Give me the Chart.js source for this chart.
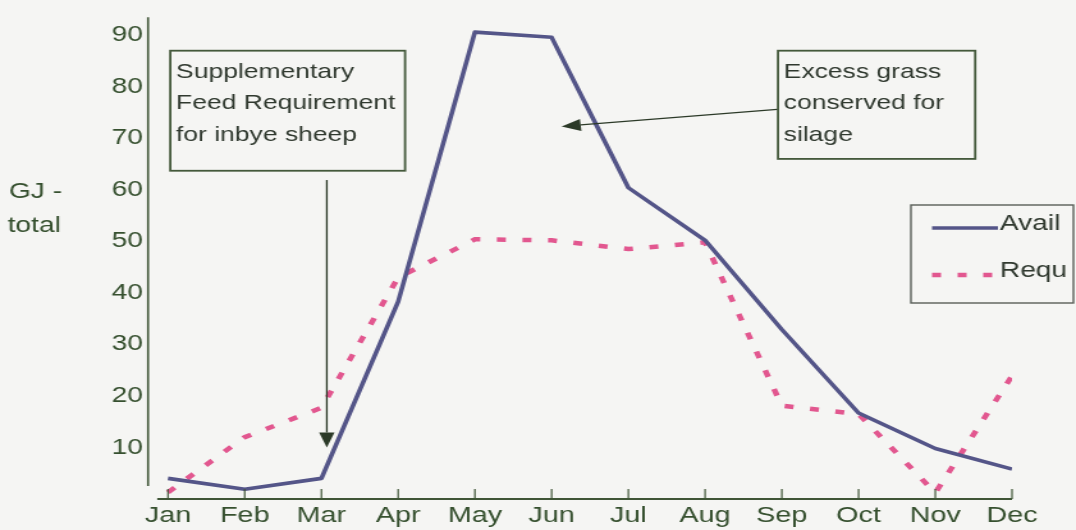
<!DOCTYPE html>
<html>
<head>
<meta charset="utf-8">
<title>Grass available vs requirement</title>
<script src="https://cdn.jsdelivr.net/npm/chart.js@4.4.1/dist/chart.umd.min.js"></script>
<style>
  html, body { margin: 0; padding: 0; background: #f5f5f3; overflow: hidden; }
  #wrap { width: 1076px; height: 530px; overflow: hidden; }
  /* the source scan is stretched sideways, so stretch the canvas the same way */
  #feedChart { transform-origin: 0 0; transform: scaleX(1.2794); }
</style>
</head>
<body>
<div id="wrap"><canvas id="feedChart" width="841" height="530"></canvas></div>
<script>
// GJ per month
const months = ['Jan', 'Feb', 'Mar', 'Apr', 'May', 'Jun', 'Jul', 'Aug', 'Sep', 'Oct', 'Nov', 'Dec'];
const avail = [4, 1.9, 4, 38.3, 90.6, 89.6, 60.4, 50.2, 32.9, 16.7, 9.8, 5.8];
const requ = [1.3, 12, 17.7, 43, 50.4, 50.2, 48.5, 49.8, 18.1, 16.5, 1.2, 23.9];
const yTicks = [10, 20, 30, 40, 50, 60, 70, 80, 90];

const FONT = 'Liberation Sans, Arial, sans-serif';
const BG = '#f5f5f3';
const tickColor = '#36502f';
const textColor = '#30392f';
const lineColor = '#3f5536';

// callout boxes, in axis units (x = month index, y = GJ)
const notes = [
  { lines: ['Supplementary', 'Feed Requirement', 'for inbye sheep'], x0: 0.03, x1: 3.09, top: 87, bottom: 63.7,
    arrow: { from: [2.07, 61.9], to: [2.07, 10.0] } },
  { lines: ['Excess grass', 'conserved for', 'silage'], x0: 7.95, x1: 10.52, top: 87, bottom: 66,
    arrow: { from: [7.94, 75.6], to: [5.13, 72.3] } }
];

function arrow(c, x1, y1, x2, y2) {
  const a = Math.atan2(y2 - y1, x2 - x1);
  const len = 15, half = 6;
  c.beginPath();
  c.moveTo(x1, y1);
  c.lineTo(x2 - Math.cos(a) * len, y2 - Math.sin(a) * len);
  c.stroke();
  c.beginPath();
  c.moveTo(x2, y2);
  c.lineTo(x2 - Math.cos(a) * len - Math.sin(a) * half, y2 - Math.sin(a) * len + Math.cos(a) * half);
  c.lineTo(x2 - Math.cos(a) * len + Math.sin(a) * half, y2 - Math.sin(a) * len - Math.cos(a) * half);
  c.closePath();
  c.fill();
}

const overlay = {
  id: 'overlay',
  beforeDraw(chart) {
    const c = chart.ctx;
    c.save();
    c.fillStyle = BG;
    c.fillRect(0, 0, chart.width, chart.height);
    c.restore();
  },
  afterDraw(chart) {
    const c = chart.ctx;
    const x = chart.scales.x, y = chart.scales.y, area = chart.chartArea;
    c.save();

    // axes - y axis stops short of the x axis like in the original
    c.strokeStyle = lineColor;
    c.lineWidth = 1.6;
    c.beginPath();
    c.moveTo(area.left, area.top);
    c.lineTo(area.left, y.getPixelForValue(2.5));
    c.stroke();
    c.lineWidth = 2;
    c.beginPath();
    c.moveTo(x.getPixelForValue(-0.14), area.bottom);
    c.lineTo(x.getPixelForValue(11), area.bottom);
    c.stroke();
    c.lineWidth = 1.2;
    months.forEach((m, i) => {
      const px = x.getPixelForValue(i);
      c.beginPath();
      c.moveTo(px, area.bottom);
      c.lineTo(px, area.bottom - 10);
      c.stroke();
    });

    // y title, horizontal
    c.fillStyle = tickColor;
    c.font = '22px ' + FONT;
    c.textBaseline = 'alphabetic';
    c.fillText('GJ -', 7, 198);
    c.fillText('total', 6, 232);

    // callouts
    notes.forEach(n => {
      const l = x.getPixelForValue(n.x0), r = x.getPixelForValue(n.x1);
      const t = y.getPixelForValue(n.top), b = y.getPixelForValue(n.bottom);
      c.fillStyle = BG;
      c.fillRect(l, t, r - l, b - t);
      c.strokeStyle = '#44593b';
      c.lineWidth = 1.8;
      c.strokeRect(l, t, r - l, b - t);
      c.fillStyle = textColor;
      c.font = '20.7px ' + FONT;
      n.lines.forEach((s, k) => c.fillText(s, l + 4.5, t + 27 + k * 31.5));
      c.strokeStyle = '#2c3a28';
      c.fillStyle = '#2c3a28';
      c.lineWidth = 1.3;
      arrow(c,
        x.getPixelForValue(n.arrow.from[0]), y.getPixelForValue(n.arrow.from[1]),
        x.getPixelForValue(n.arrow.to[0]), y.getPixelForValue(n.arrow.to[1]));
    });

    // legend box on the right
    const lx = 712, ly = 205, lw = 127, lh = 98;
    c.strokeStyle = '#5a5f58';
    c.lineWidth = 1.4;
    c.strokeRect(lx, ly, lw, lh);
    chart.data.datasets.forEach((ds, k) => {
      const yy = ly + 23 + k * 47;
      c.strokeStyle = ds.borderColor;
      c.lineWidth = ds.borderWidth;
      c.setLineDash(ds.borderDash || []);
      c.beginPath();
      c.moveTo(lx + 16.5, yy);
      c.lineTo(lx + 68, yy);
      c.stroke();
      c.setLineDash([]);
      c.fillStyle = textColor;
      c.font = '22px ' + FONT;
      c.fillText(ds.label, lx + 69.5, yy + 2);
    });

    c.restore();
  }
};

const ctx = document.getElementById('feedChart').getContext('2d');
const chart = new Chart(ctx, {
  type: 'line',
  data: {
    datasets: [
      { label: 'Avail', data: avail.map((v, i) => ({ x: i, y: v })),
        borderColor: '#545588', borderWidth: 3.6, pointRadius: 0, tension: 0, borderJoinStyle: 'round' },
      { label: 'Requ', data: requ.map((v, i) => ({ x: i, y: v })),
        borderColor: '#e2578f', borderWidth: 4.5, borderDash: [7, 13], pointRadius: 0, tension: 0 }
    ]
  },
  options: {
    responsive: false,
    animation: false,
    devicePixelRatio: 1,
    layout: { padding: { top: 13, right: 50, left: 0, bottom: 0 } },
    plugins: { legend: { display: false }, tooltip: { enabled: false } },
    scales: {
      x: {
        type: 'linear',
        min: -0.26,
        max: 11,
        afterBuildTicks: a => { a.ticks = months.map((m, i) => ({ value: i })); },
        afterFit: s => { s.height = 31; },
        ticks: { callback: v => months[v], color: tickColor, font: { family: FONT, size: 22.5 },
          padding: 3, maxRotation: 0, autoSkip: false },
        grid: { display: false, drawTicks: false },
        border: { display: false }
      },
      y: {
        min: 0,
        max: 93.5,
        afterBuildTicks: a => { a.ticks = yTicks.map(v => ({ value: v })); },
        afterFit: s => { s.width = 115.7; },
        ticks: { color: tickColor, font: { family: FONT, size: 22 }, padding: 4 },
        grid: { display: false, drawTicks: false },
        border: { display: false }
      }
    }
  },
  plugins: [overlay]
});
</script>
</body>
</html>
